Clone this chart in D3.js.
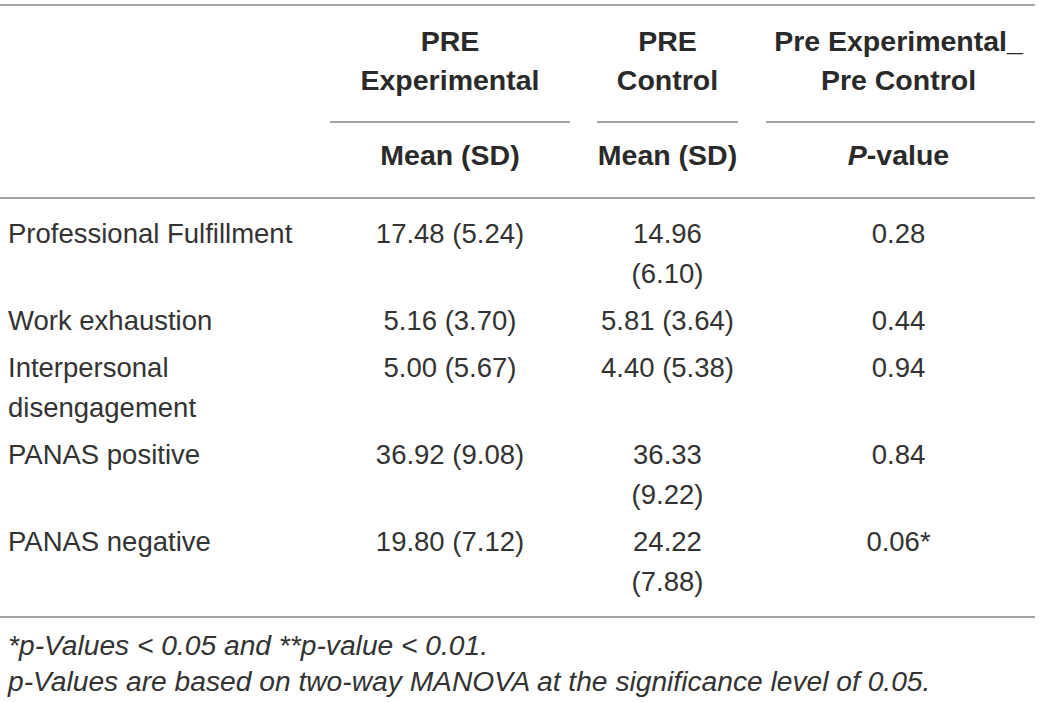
<!DOCTYPE html>
<html>
<head>
<meta charset="utf-8">
<script src="https://cdn.jsdelivr.net/npm/d3@7/dist/d3.min.js"></script>
<style>
  body { margin: 0; background: #fff; }
  svg { display: block; }
</style>
</head>
<body>
<div id="table"></div>
<script>
// table values
var measures = ["Professional Fulfillment", "Work exhaustion", "Interpersonal disengagement", "PANAS positive", "PANAS negative"];
var expMean = [17.48, 5.16, 5.00, 36.92, 19.80];
var expSD = [5.24, 3.70, 5.67, 9.08, 7.12];
var ctrlMean = [14.96, 5.81, 4.40, 36.33, 24.22];
var ctrlSD = [6.10, 3.64, 5.38, 9.22, 7.88];
var pValues = [0.28, 0.44, 0.94, 0.84, 0.06];
var pMarks = ["", "", "", "", "*"];

var groupHeaders = [["PRE", "Experimental"], ["PRE", "Control"], ["Pre Experimental_", "Pre Control"]];
var subHeaders = ["Mean (SD)", "Mean (SD)", "P-value"];
var footnotes = ["*p-Values < 0.05 and **p-value < 0.01.",
                 "p-Values are based on two-way MANOVA at the significance level of 0.05."];

var width = 1041, height = 702;
var FONT = "'Liberation Sans', Arial, Helvetica, sans-serif";
var textColor = "#2a2a2a", bodyColor = "#333", ruleColor = "#a3a3a3";
var bodySize = 27.5, headSize = 28.5, noteSize = 28.2;
var lineH = 40, rowPad = 7;

// column extents (x0..x1) -- first column is left aligned
var cols = [
  {x0: 8, x1: 330, anchor: "start"},
  {x0: 330, x1: 570, anchor: "middle"},
  {x0: 597, x1: 738, anchor: "middle"},
  {x0: 766, x1: 1035, anchor: "middle"}
];
function colX(c) { return c.anchor === "start" ? c.x0 : (c.x0 + c.x1) / 2 - (c.x1 > 1000 ? 2 : 0); }

var svg = d3.select("#table").append("svg")
    .attr("width", width)
    .attr("height", height);

svg.append("rect").attr("width", width).attr("height", height).attr("fill", "#fff");

function rule(y, x0, x1) {
  svg.append("line")
      .attr("x1", x0).attr("x2", x1)
      .attr("y1", y).attr("y2", y)
      .attr("stroke", ruleColor)
      .attr("stroke-width", 2);
}

// hidden text used for measuring while wrapping
var measurer = svg.append("text")
    .attr("font-family", FONT)
    .attr("font-size", bodySize)
    .style("visibility", "hidden");

function wrap(str, maxW) {
  var words = str.split(" "), lines = [], cur = "";
  words.forEach(function(w) {
    var test = cur ? cur + " " + w : w;
    measurer.text(test);
    if (cur && measurer.node().getComputedTextLength() > maxW) {
      lines.push(cur);
      cur = w;
    } else {
      cur = test;
    }
  });
  if (cur) lines.push(cur);
  return lines;
}

var fmt = d3.format(".2f");

// build cell strings from the arrays
var rows = measures.map(function(m, i) {
  return [
    m,
    fmt(expMean[i]) + " (" + fmt(expSD[i]) + ")",
    fmt(ctrlMean[i]) + " (" + fmt(ctrlSD[i]) + ")",
    fmt(pValues[i]) + pMarks[i]
  ].map(function(s, j) { return wrap(s, cols[j].x1 - cols[j].x0); });
});
measurer.remove();

// ---- header ----
rule(5, 0, 1035);

groupHeaders.forEach(function(lines, j) {
  var t = svg.append("text")
      .attr("font-family", FONT)
      .attr("font-size", headSize)
      .attr("font-weight", "bold")
      .attr("fill", textColor)
      .attr("text-anchor", "middle");
  lines.forEach(function(l, k) {
    t.append("tspan")
        .attr("x", colX(cols[j + 1]))
        .attr("y", 51 + k * 39)
        .text(l);
  });
  rule(122, cols[j + 1].x0, cols[j + 1].x1);
});

subHeaders.forEach(function(h, j) {
  var t = svg.append("text")
      .attr("font-family", FONT)
      .attr("font-size", headSize)
      .attr("font-weight", "bold")
      .attr("fill", textColor)
      .attr("text-anchor", "middle")
      .attr("x", colX(cols[j + 1]))
      .attr("y", 165);
  if (h.indexOf("P-") === 0) {
    t.append("tspan").attr("font-style", "italic").text("P");
    t.append("tspan").text(h.slice(1));
  } else {
    t.text(h);
  }
});

rule(198, 0, 1035);

// ---- body ----
var y = 243, lastBaseline = y;
rows.forEach(function(cells) {
  var n = d3.max(cells, function(c) { return c.length; });
  cells.forEach(function(lines, j) {
    var t = svg.append("text")
        .attr("font-family", FONT)
        .attr("font-size", bodySize)
        .attr("fill", bodyColor)
        .attr("text-anchor", cols[j].anchor);
    lines.forEach(function(l, k) {
      t.append("tspan")
          .attr("x", colX(cols[j]))
          .attr("y", y + k * lineH)
          .text(l);
    });
  });
  lastBaseline = y + (n - 1) * lineH;
  y += n * lineH + rowPad;
});

var bottom = lastBaseline + 26;
rule(bottom, 0, 1035);

// ---- footnotes ----
footnotes.forEach(function(f, i) {
  svg.append("text")
      .attr("font-family", FONT)
      .attr("font-size", noteSize)
      .attr("font-style", "italic")
      .attr("fill", bodyColor)
      .attr("x", 8)
      .attr("y", bottom + 38 + i * 36)
      .text(f);
});
</script>
</body>
</html>
